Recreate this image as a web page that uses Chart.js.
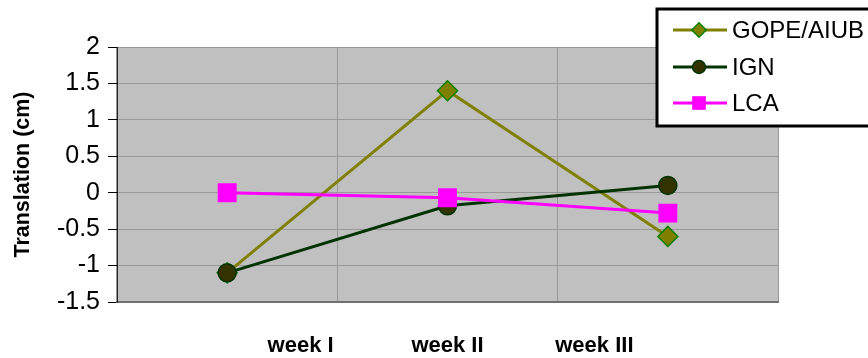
<!DOCTYPE html>
<html>
<head>
<meta charset="utf-8">
<script src="https://cdn.jsdelivr.net/npm/chart.js@4.4.1/dist/chart.umd.min.js"></script>
<style>
  html, body { margin: 0; padding: 0; background: #ffffff; }
  #wrap { width: 868px; height: 358px; }
</style>
</head>
<body>
<div id="wrap"><canvas id="c" width="868" height="358"></canvas></div>
<script>
// Weekly translation estimates (cm) per analysis centre
const weeks = ['week I', 'week II', 'week III'];
const gopeAiub = [-1.1, 1.4, -0.6];
const ign = [-1.1, -0.18, 0.1];
const lca = [0.0, -0.07, -0.28];
const seriesNames = ['GOPE/AIUB', 'IGN', 'LCA'];

// Week captions sit on a finer 9-slot bottom scale (slots 2, 4, 6)
const captionSlots = ['', '', weeks[0], '', weeks[1], '', weeks[2], '', ''];

const FONT = "'Liberation Sans', Arial, Helvetica, sans-serif";
Chart.defaults.font.family = FONT;
Chart.defaults.color = '#000000';

const plotBackground = {
  id: 'plotBackground',
  beforeDraw(chart) {
    const { ctx, chartArea: a } = chart;
    ctx.save();
    ctx.fillStyle = '#C0C0C0';
    ctx.fillRect(a.left, a.top, a.right - a.left, a.bottom - a.top);
    ctx.restore();
  }
};

// Boxed legend in the top-right corner, overlapping the plot frame
const boxLegend = {
  id: 'boxLegend',
  afterDraw(chart) {
    const { ctx } = chart;
    const markerScale = 0.72;
    ctx.save();
    ctx.fillStyle = '#ffffff';
    ctx.fillRect(657, 9, 230, 117);
    ctx.strokeStyle = '#000000';
    ctx.lineWidth = 3;
    ctx.strokeRect(657, 9, 230, 117);
    const rows = [30, 67, 103];
    chart.data.datasets.forEach((ds, i) => {
      const y = rows[i];
      ctx.strokeStyle = ds.borderColor;
      ctx.lineWidth = ds.borderWidth;
      ctx.beginPath();
      ctx.moveTo(673, y);
      ctx.lineTo(727, y);
      ctx.stroke();
      ctx.fillStyle = ds.pointBackgroundColor;
      ctx.strokeStyle = ds.pointBorderColor;
      ctx.lineWidth = ds.pointBorderWidth;
      Chart.helpers.drawPoint(ctx, {
        pointStyle: ds.pointStyle,
        radius: ds.pointRadius * markerScale,
        rotation: 0,
        borderWidth: ds.pointBorderWidth
      }, 699, y);
      ctx.fillStyle = '#000000';
      ctx.font = '24px ' + FONT;
      ctx.textAlign = 'left';
      ctx.textBaseline = 'middle';
      ctx.fillText(ds.label, 732, y + 1);
    });
    ctx.restore();
  }
};

new Chart(document.getElementById('c'), {
  type: 'line',
  data: {
    labels: weeks,
    datasets: [
      {
        label: seriesNames[0],
        data: gopeAiub,
        borderColor: '#808000',
        borderWidth: 3,
        pointStyle: 'rectRot',
        pointRadius: 10,
        pointBackgroundColor: '#808000',
        pointBorderColor: '#008000',
        pointBorderWidth: 1.5,
        tension: 0,
        order: 3
      },
      {
        label: seriesNames[1],
        data: ign,
        borderColor: '#003300',
        borderWidth: 3,
        pointStyle: 'circle',
        pointRadius: 9,
        pointBackgroundColor: '#333300',
        pointBorderColor: '#003300',
        pointBorderWidth: 1.5,
        tension: 0,
        order: 2
      },
      {
        label: seriesNames[2],
        data: lca,
        borderColor: '#FF00FF',
        borderWidth: 3,
        pointStyle: 'rect',
        pointRadius: 13.4,
        pointBackgroundColor: '#FF00FF',
        pointBorderColor: '#FF00FF',
        pointBorderWidth: 0,
        tension: 0,
        order: 1
      }
    ]
  },
  options: {
    responsive: false,
    animation: false,
    devicePixelRatio: 1,
    layout: { padding: { top: 47, right: 90, bottom: 0, left: 0 } },
    plugins: {
      legend: { display: false },
      tooltip: { enabled: false }
    },
    scales: {
      x: {
        type: 'category',
        position: 'bottom',
        weight: 0,
        offset: true,
        grid: { display: true, color: '#999999', lineWidth: 1, offset: true, drawTicks: false },
        border: { display: true, color: '#707070', width: 2 },
        ticks: { display: false },
        afterFit(scale) { scale.height = 0; }
      },
      xl: {
        type: 'category',
        labels: captionSlots,
        position: 'bottom',
        weight: 1,
        offset: true,
        grid: { display: false, drawTicks: false },
        border: { display: false },
        ticks: {
          autoSkip: false,
          maxRotation: 0,
          minRotation: 0,
          padding: 31,
          font: { size: 22, weight: 'bold' },
          color: '#000000'
        },
        afterFit(scale) { scale.height = 56; }
      },
      y: {
        type: 'linear',
        min: -1.5,
        max: 2,
        grid: { color: '#999999', lineWidth: 1, tickColor: '#000000', tickLength: 9 },
        border: { display: true, color: '#222222', width: 1 },
        ticks: {
          stepSize: 0.5,
          padding: 8,
          font: { size: 25 },
          color: '#000000',
          callback: (v) => String(v)
        },
        title: {
          display: true,
          text: 'Translation (cm)',
          font: { size: 21.5, weight: 'bold' },
          color: '#000000',
          padding: { top: 10, bottom: 0 }
        },
        afterFit(scale) { scale.width = 117; }
      }
    }
  },
  plugins: [plotBackground, boxLegend]
});
</script>
</body>
</html>
